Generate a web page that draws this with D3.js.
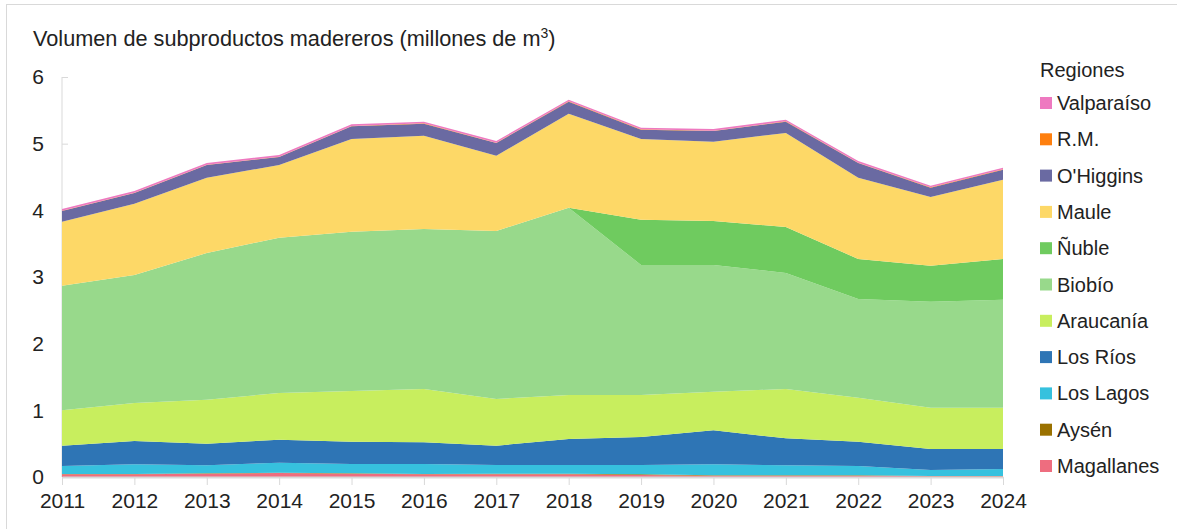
<!DOCTYPE html>
<html>
<head>
<meta charset="utf-8">
<script src="https://cdn.jsdelivr.net/npm/d3@7"></script>
<style>
	body { margin: 0; background: #fff; }
	svg { display: block; font-family: 'Liberation Sans', Arial, sans-serif; }
	.axis path, .axis line { stroke: #d9d9d9; }
	.axis text { fill: #222; font-size: 21px; }
</style>
</head>
<body>
<div id="chart"></div>
<script>
// data (millones de m3)
var years = [2011, 2012, 2013, 2014, 2015, 2016, 2017, 2018, 2019, 2020, 2021, 2022, 2023, 2024];
var magallanes = [0.04, 0.04, 0.05, 0.06, 0.05, 0.04, 0.04, 0.04, 0.03, 0.02, 0.02, 0.02, 0.01, 0.01];
var aysen = [0.005, 0.005, 0.005, 0.005, 0.005, 0.005, 0.01, 0.01, 0.01, 0.005, 0.005, 0.005, 0.005, 0.005];
var losLagos = [0.12, 0.145, 0.12, 0.15, 0.14, 0.15, 0.13, 0.13, 0.14, 0.165, 0.15, 0.14, 0.09, 0.105];
var losRios = [0.305, 0.35, 0.325, 0.345, 0.335, 0.325, 0.29, 0.39, 0.42, 0.51, 0.405, 0.365, 0.315, 0.30];
var araucania = [0.53, 0.57, 0.66, 0.70, 0.76, 0.80, 0.70, 0.66, 0.63, 0.58, 0.74, 0.66, 0.62, 0.62];
var biobio = [1.87, 1.92, 2.20, 2.33, 2.39, 2.40, 2.52, 2.81, 1.95, 1.90, 1.74, 1.48, 1.59, 1.62];
var nuble = [0, 0, 0, 0, 0, 0, 0, 0, 0.68, 0.66, 0.69, 0.60, 0.54, 0.61];
var maule = [0.96, 1.07, 1.13, 1.09, 1.39, 1.40, 1.13, 1.41, 1.21, 1.19, 1.41, 1.22, 1.03, 1.19];
var ohiggins = [0.16, 0.16, 0.19, 0.12, 0.19, 0.18, 0.19, 0.18, 0.14, 0.16, 0.17, 0.22, 0.14, 0.15];
var rm = [0.005, 0.005, 0.005, 0.005, 0.005, 0.005, 0.005, 0.005, 0.005, 0.005, 0.005, 0.005, 0.005, 0.005];
var valparaiso = [0.025, 0.025, 0.025, 0.025, 0.025, 0.025, 0.025, 0.025, 0.025, 0.025, 0.025, 0.025, 0.025, 0.025];

var yTicks = [0, 1, 2, 3, 4, 5, 6];

// bottom to top
var keys = ['Magallanes', 'Aysén', 'Los Lagos', 'Los Ríos', 'Araucanía', 'Biobío', 'Ñuble', 'Maule', "O'Higgins", 'R.M.', 'Valparaíso'];
var seriesValues = [magallanes, aysen, losLagos, losRios, araucania, biobio, nuble, maule, ohiggins, rm, valparaiso];
var colors = ['#ee6d7f', '#9a7100', '#36c1de', '#2e75b5', '#c8ee5e', '#98d98b', '#6fcb5f', '#fdd867', '#6a6aa2', '#fe7f0e', '#ee79c0'];

var rows = years.map(function(y, i) {
	var row = { year: y };
	keys.forEach(function(k, j) {
		row[k] = seriesValues[j][i];
	});
	return row;
});

var W = 1177, H = 529;
var margin = { top: 77, right: 174, bottom: 52, left: 62 };
var width = W - margin.left - margin.right;
var height = H - margin.top - margin.bottom;

var svg = d3.select('#chart').append('svg')
	.attr('width', W)
	.attr('height', H);

// frame
svg.append('rect')
	.attr('x', 6.5).attr('y', 4.5)
	.attr('width', W + 10).attr('height', H + 10)
	.attr('fill', 'none')
	.attr('stroke', '#d9d9d9');

var title = svg.append('text')
	.attr('x', 33)
	.attr('y', 46)
	.attr('font-size', 21.7)
	.attr('fill', '#222')
	.text('Volumen de subproductos madereros (millones de m');
title.append('tspan')
	.attr('dy', -8)
	.attr('font-size', 14)
	.text('3');
title.append('tspan')
	.attr('dy', 8)
	.text(')');

var xScale = d3.scaleLinear().domain([2011, 2024]).range([0, width]);
var yScale = d3.scaleLinear().domain([0, 6]).range([height, 0]);
var color = d3.scaleOrdinal().domain(keys).range(colors);

var g = svg.append('g')
	.attr('transform', 'translate(' + margin.left + ',' + margin.top + ')');

var stack = d3.stack().keys(keys);
var area = d3.area()
	.x(function(d) { return xScale(d.data.year); })
	.y0(function(d) { return yScale(d[0]); })
	.y1(function(d) { return yScale(d[1]); });

// y axis (behind areas)
var yAxis = g.append('g')
	.attr('class', 'axis y-axis')
	.call(d3.axisLeft(yScale).tickValues(yTicks).tickFormat(d3.format('d')).tickSizeInner(-6).tickSizeOuter(0).tickPadding(18));
yAxis.select('.domain').remove();
yAxis.append('line')
	.attr('x1', 0).attr('x2', 0)
	.attr('y1', 0).attr('y2', height)
	.attr('stroke', '#d9d9d9');

g.selectAll('.layer')
	.data(stack(rows))
	.enter()
	.append('path')
	.attr('class', 'layer')
	.attr('fill', function(d) { return color(d.key); })
	.attr('d', area);

var xAxis = g.append('g')
	.attr('class', 'axis x-axis')
	.attr('transform', 'translate(0,' + height + ')')
	.call(d3.axisBottom(xScale).tickValues(years).tickFormat(d3.format('d')).tickSizeInner(8).tickSizeOuter(0).tickPadding(8));
xAxis.select('.domain').attr('stroke-width', 2);

// legend
var legend = svg.append('g')
	.attr('transform', 'translate(1040,0)');

legend.append('text')
	.attr('x', 0)
	.attr('y', 77)
	.attr('font-size', 20)
	.attr('fill', '#222')
	.text('Regiones');

var legendKeys = keys.slice().reverse();
var item = legend.selectAll('.legend')
	.data(legendKeys)
	.enter()
	.append('g')
	.attr('class', 'legend')
	.attr('transform', function(d, i) { return 'translate(0,' + (103 + i * 36.3) + ')'; });

item.append('rect')
	.attr('x', 0)
	.attr('y', -6)
	.attr('width', 12)
	.attr('height', 12)
	.attr('fill', function(d) { return color(d); });

item.append('text')
	.attr('x', 17)
	.attr('y', 7)
	.attr('font-size', 20)
	.attr('fill', '#222')
	.text(function(d) { return d; });
</script>
</body>
</html>
